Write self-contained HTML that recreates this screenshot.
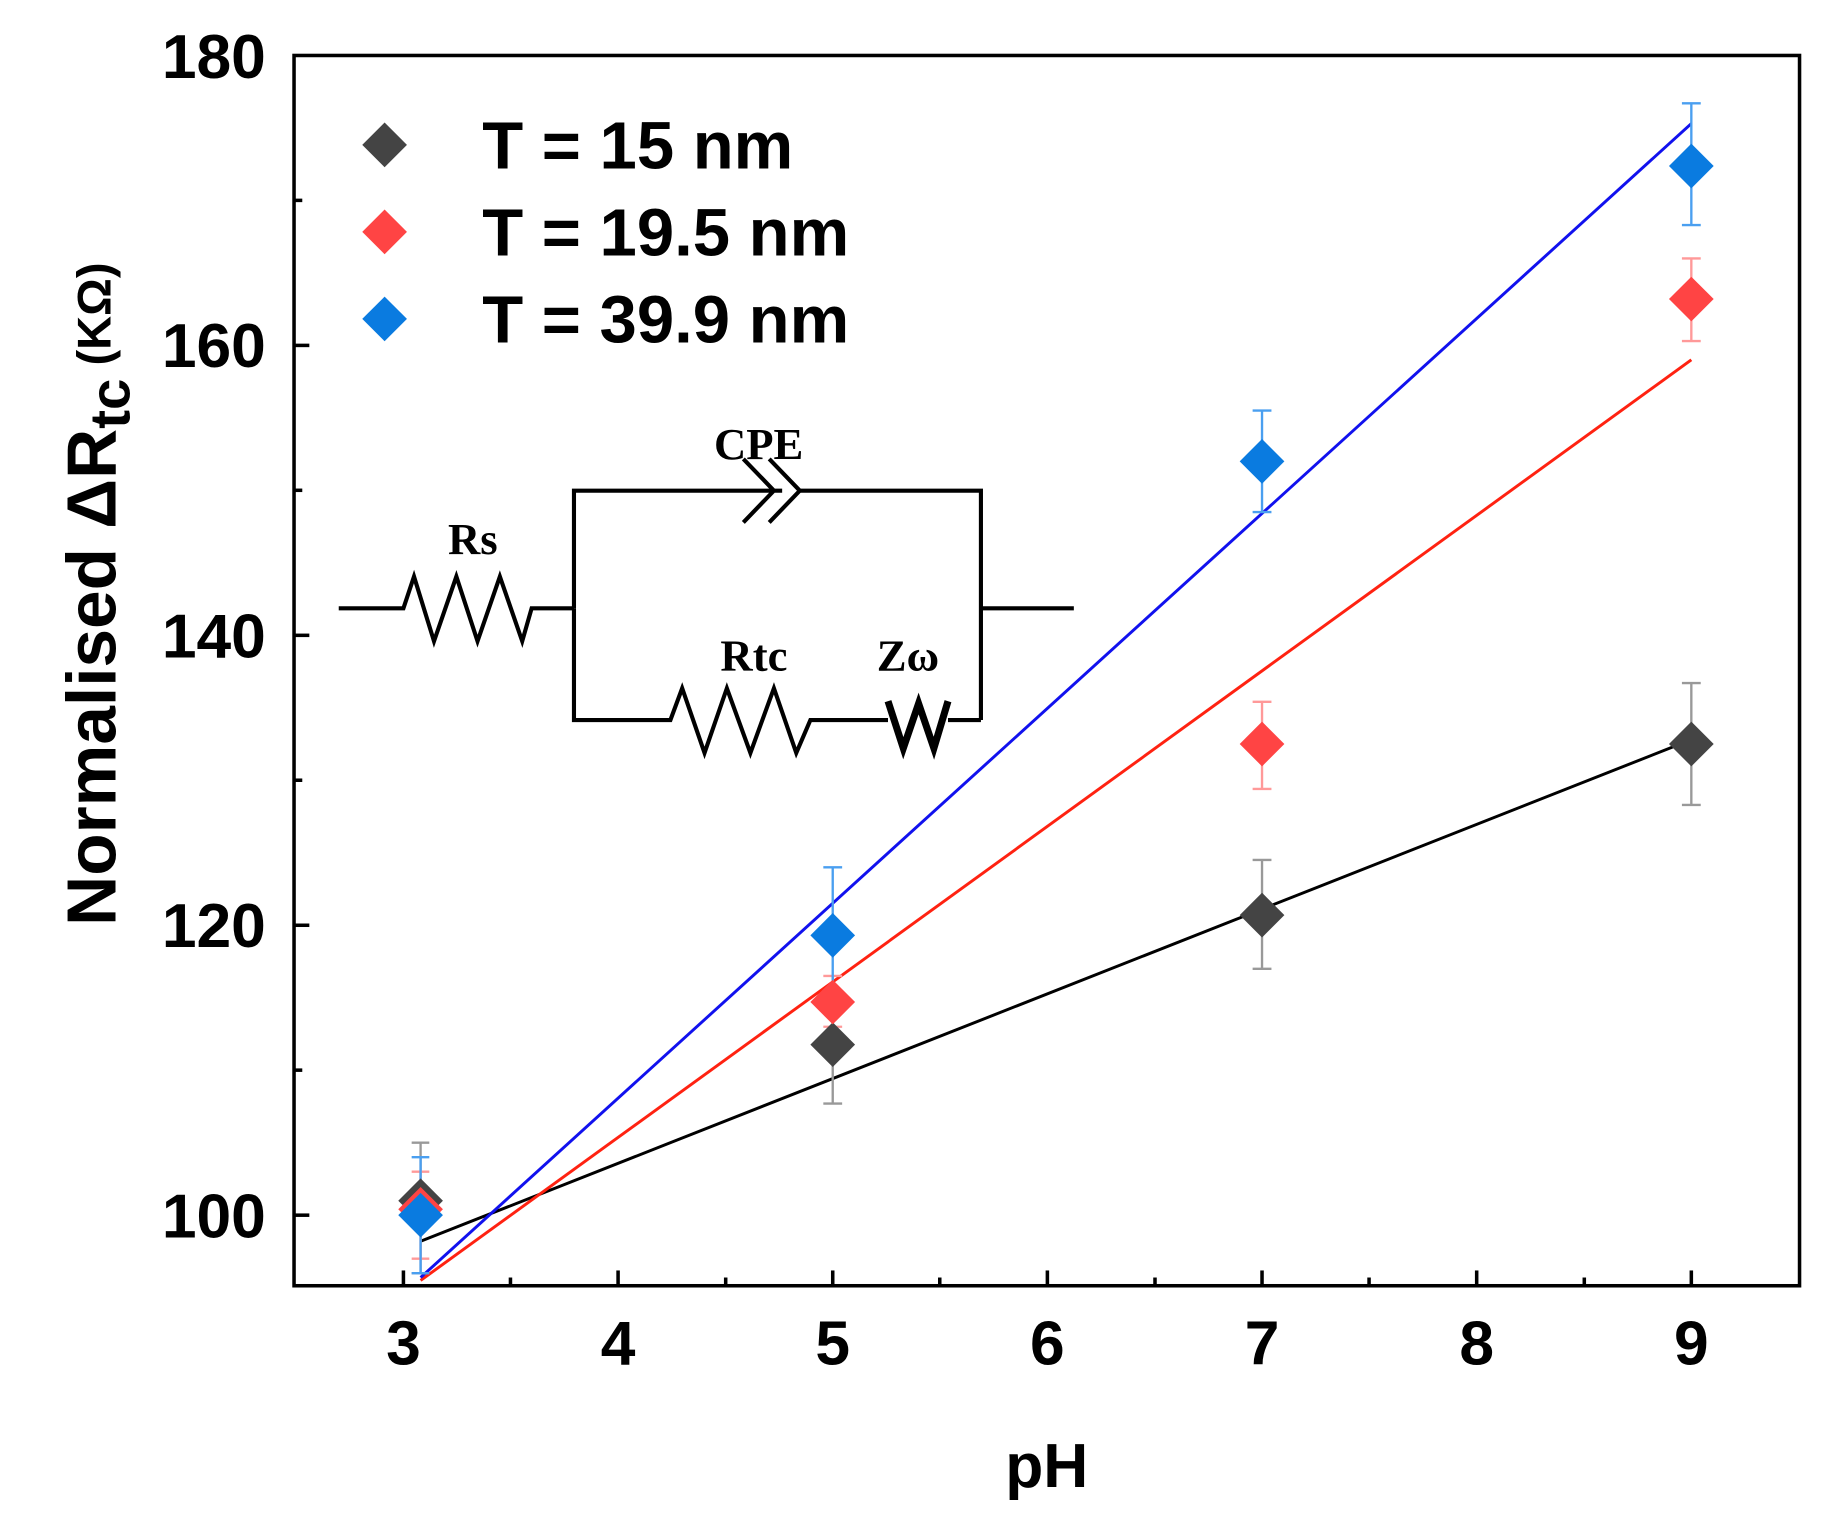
<!DOCTYPE html>
<html><head><style>
html,body{margin:0;padding:0;background:#fff;}
svg{display:block;}
</style></head><body>
<svg width="1836" height="1520" viewBox="0 0 1561 1292" xmlns="http://www.w3.org/2000/svg">
<rect width="1561" height="1292" fill="#fff"/>
<rect x="250" y="47" width="1280" height="1046" fill="none" stroke="#000" stroke-width="3"/>
<g stroke="#000" stroke-width="3">
<line x1="343" y1="1093" x2="343" y2="1080"/><line x1="525.5" y1="1093" x2="525.5" y2="1080"/>
<line x1="708" y1="1093" x2="708" y2="1080"/><line x1="890.5" y1="1093" x2="890.5" y2="1080"/>
<line x1="1073" y1="1093" x2="1073" y2="1080"/><line x1="1255.5" y1="1093" x2="1255.5" y2="1080"/>
<line x1="1438" y1="1093" x2="1438" y2="1080"/>
<line x1="434" y1="1093" x2="434" y2="1086"/><line x1="617" y1="1093" x2="617" y2="1086"/>
<line x1="799" y1="1093" x2="799" y2="1086"/><line x1="982" y1="1093" x2="982" y2="1086"/>
<line x1="1164" y1="1093" x2="1164" y2="1086"/><line x1="1347" y1="1093" x2="1347" y2="1086"/>
<line x1="250" y1="1033" x2="263" y2="1033"/><line x1="250" y1="786.5" x2="263" y2="786.5"/>
<line x1="250" y1="540" x2="263" y2="540"/><line x1="250" y1="293.5" x2="263" y2="293.5"/>
<line x1="250" y1="909.7" x2="257" y2="909.7"/><line x1="250" y1="663.2" x2="257" y2="663.2"/>
<line x1="250" y1="416.7" x2="257" y2="416.7"/><line x1="250" y1="170.2" x2="257" y2="170.2"/>
</g>
<g font-family="Liberation Sans, sans-serif" font-weight="bold" font-size="53" fill="#000">
<g text-anchor="middle">
<text x="343" y="1160">3</text><text x="525.5" y="1160">4</text><text x="708" y="1160">5</text>
<text x="890.5" y="1160">6</text><text x="1073" y="1160">7</text><text x="1255.5" y="1160">8</text>
<text x="1438" y="1160">9</text>
<text x="890" y="1264">pH</text>
</g>
<g text-anchor="end">
<text x="226" y="1052">100</text><text x="226" y="805">120</text><text x="226" y="559">140</text>
<text x="226" y="312">160</text><text x="226" y="66">180</text>
</g>
<text transform="translate(98,505) rotate(-90)" text-anchor="middle" font-size="59">Normalised ΔR<tspan font-size="48" dy="12">tc</tspan><tspan font-size="40" dy="-16">  (KΩ)</tspan></text>
</g>
<line x1="357.6" y1="1055.2" x2="1438" y2="628.7" stroke="#000" stroke-width="2.5"/>
<line x1="357.6" y1="1088.5" x2="1438" y2="305.8" stroke="#f21" stroke-width="2.5"/>
<line x1="357.6" y1="1086" x2="1438" y2="104.9" stroke="#11e" stroke-width="2.5"/>
<g stroke-width="2">
<g stroke="#999">
<path d="M357.6 1082.3V971.4M350 1082.3h15M350 971.4h15"/>
<path d="M708 938.1V848.1M700 938.1h16M700 848.1h16"/>
<path d="M1073 823.5V731M1065 823.5h16M1065 731h16"/>
<path d="M1438 684.2V580.6M1430 684.2h16M1430 580.6h16"/>
</g>
<g stroke="#f99">
<path d="M357.6 1070V996M350 1070h15M350 996h15"/>
<path d="M708 872.8V829.6M700 872.8h16M700 829.6h16"/>
<path d="M1073 670.6V596.5M1065 670.6h16M1065 596.5h16"/>
<path d="M1438 289.8V219.6M1430 289.8h16M1430 219.6h16"/>
</g>
<g stroke="#4a9ff0">
<path d="M357.6 1082.3V983.7M350 1082.3h15M350 983.7h15"/>
<path d="M708 848.1V737.2M700 848.1h16M700 737.2h16"/>
<path d="M1073 435.2V348.9M1065 435.2h16M1065 348.9h16"/>
<path d="M1438 191.2V87.7M1430 191.2h16M1430 87.7h16"/>
</g>
</g>
<defs><path id="d" d="M0 -19L19 0L0 19L-19 0Z"/></defs>
<g fill="#444">
<use href="#d" x="357.6" y="1020.7"/><use href="#d" x="708" y="888"/>
<use href="#d" x="1073" y="777.9"/><use href="#d" x="1438" y="632.4"/>
<use href="#d" x="327" y="123"/>
</g>
<g fill="#f44">
<use href="#d" x="357.6" y="1028"/><use href="#d" x="708" y="851.8"/>
<use href="#d" x="1073" y="632.4"/><use href="#d" x="1438" y="254.1"/>
<use href="#d" x="327" y="197"/>
</g>
<g fill="#0a7be0">
<use href="#d" x="357.6" y="1033"/><use href="#d" x="708" y="795.1"/>
<use href="#d" x="1073" y="392.1"/><use href="#d" x="1438" y="141"/>
<use href="#d" x="327" y="271"/>
</g>
<g font-family="Liberation Sans, sans-serif" font-weight="bold" font-size="57" fill="#000">
<text x="410" y="143">T = 15 nm</text>
<text x="410" y="217">T = 19.5 nm</text>
<text x="410" y="291">T = 39.9 nm</text>
</g>
<g fill="none" stroke="#000" stroke-width="3.5" stroke-linejoin="miter">
<path d="M288 517H343L352 490L369 545L388 490L406 545L425 490L444 545L452 517H488"/>
<path d="M488 517V417H665M632 390L658 417L632 444M654 390L680 417L654 444M680 417H834V612"/>
<path d="M488 517V612H570L580 585L599 640L618 585L638 640L658 585L677 640L689 612H755"/>
<path d="M806 612H834M834 517H913"/>
</g>
<path d="M755 596L768 636L781 598L794 636L806 596" fill="none" stroke="#000" stroke-width="6"/>
<g font-family="Liberation Serif, serif" font-weight="bold" font-size="38" fill="#000" text-anchor="middle">
<text x="645" y="390">CPE</text>
<text x="402" y="471">Rs</text>
<text x="641" y="570">Rtc</text>
<text x="772" y="570">Zω</text>
</g>
</svg>
</body></html>
